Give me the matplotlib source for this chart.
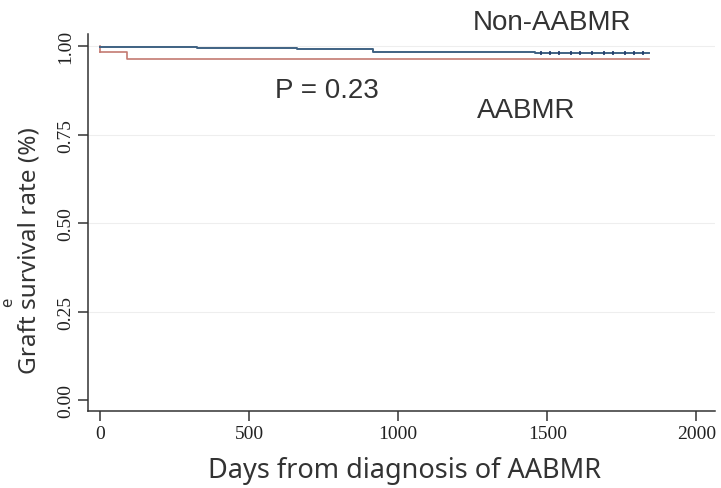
import matplotlib.pyplot as plt

# Kaplan-Meier steps
non_days = [0, 325, 660, 917, 1460, 1840]
non_surv = [0.998, 0.994, 0.991, 0.985, 0.980, 0.980]
non_censor = [1480, 1510, 1540, 1580, 1610, 1650, 1690, 1720, 1760, 1790, 1820]

aab_days = [0, 90, 1840]
aab_surv = [0.983, 0.964, 0.964]

xticks = [0, 500, 1000, 1500, 2000]
yticks = [0.00, 0.25, 0.50, 0.75, 1.00]

fig = plt.figure(figsize=(7.21, 4.89), dpi=100)
ax = fig.add_axes([0.122, 0.157, 0.870, 0.771])

for y in yticks[1:]:
    ax.axhline(y, color='#eeeeee', lw=0.8, zorder=0)

ax.step(aab_days, aab_surv, where='post', color='#c47a72', lw=1.2)
ax.plot([0, 0], [1.0, aab_surv[0]], color='#c47a72', lw=1.2)
ax.step(non_days, non_surv, where='post', color='#3f6283', lw=1.4)
ax.plot(non_censor, [0.980] * len(non_censor), ls='none', marker='|',
        ms=3, color='#1f3a6a', mew=1.2)

ax.set_xlim(-40, 2063)
ax.set_ylim(-0.031, 1.034)
ax.spines['top'].set_visible(False)
ax.spines['right'].set_visible(False)
for s in ['left', 'bottom']:
    ax.spines[s].set_color('#333333')
    ax.spines[s].set_linewidth(1.1)
ax.set_xticks(xticks)
ax.set_yticks(yticks)
ax.set_xticklabels([str(t) for t in xticks], family='Liberation Serif', fontsize=14)
ax.set_yticklabels(['%.2f' % t for t in yticks], family='Liberation Serif',
                   fontsize=14, rotation=90, va='center')
ax.tick_params(length=7, width=1.1, color='#333333', labelcolor='#222222', pad=3)

fig.text(405 / 721, 1 - 478 / 489, 'Days from diagnosis of AABMR',
         family='Noto Sans', fontsize=19.5, color='#333333', ha='center', va='baseline')
fig.text(30 / 721, 1 - 251 / 489, 'Graft survival rate (%)', rotation=90,
         family='Noto Sans', fontsize=17.5, color='#333333', ha='center', va='center')
fig.text(8 / 721, 1 - 302 / 489, 'e', rotation=90, family='Noto Sans',
         fontsize=12, color='#333333', ha='center', va='center')

ax.text(1250, 1.048, 'Non-AABMR', family='Liberation Sans', fontsize=20,
        color='#333333', ha='left', va='baseline')
ax.text(586, 0.856, 'P = 0.23', family='Liberation Sans', fontsize=20,
        color='#333333', ha='left', va='baseline')
ax.text(1263, 0.80, 'AABMR', family='Liberation Sans', fontsize=20,
        color='#333333', ha='left', va='baseline')

fig.savefig('out.png', dpi=100)
